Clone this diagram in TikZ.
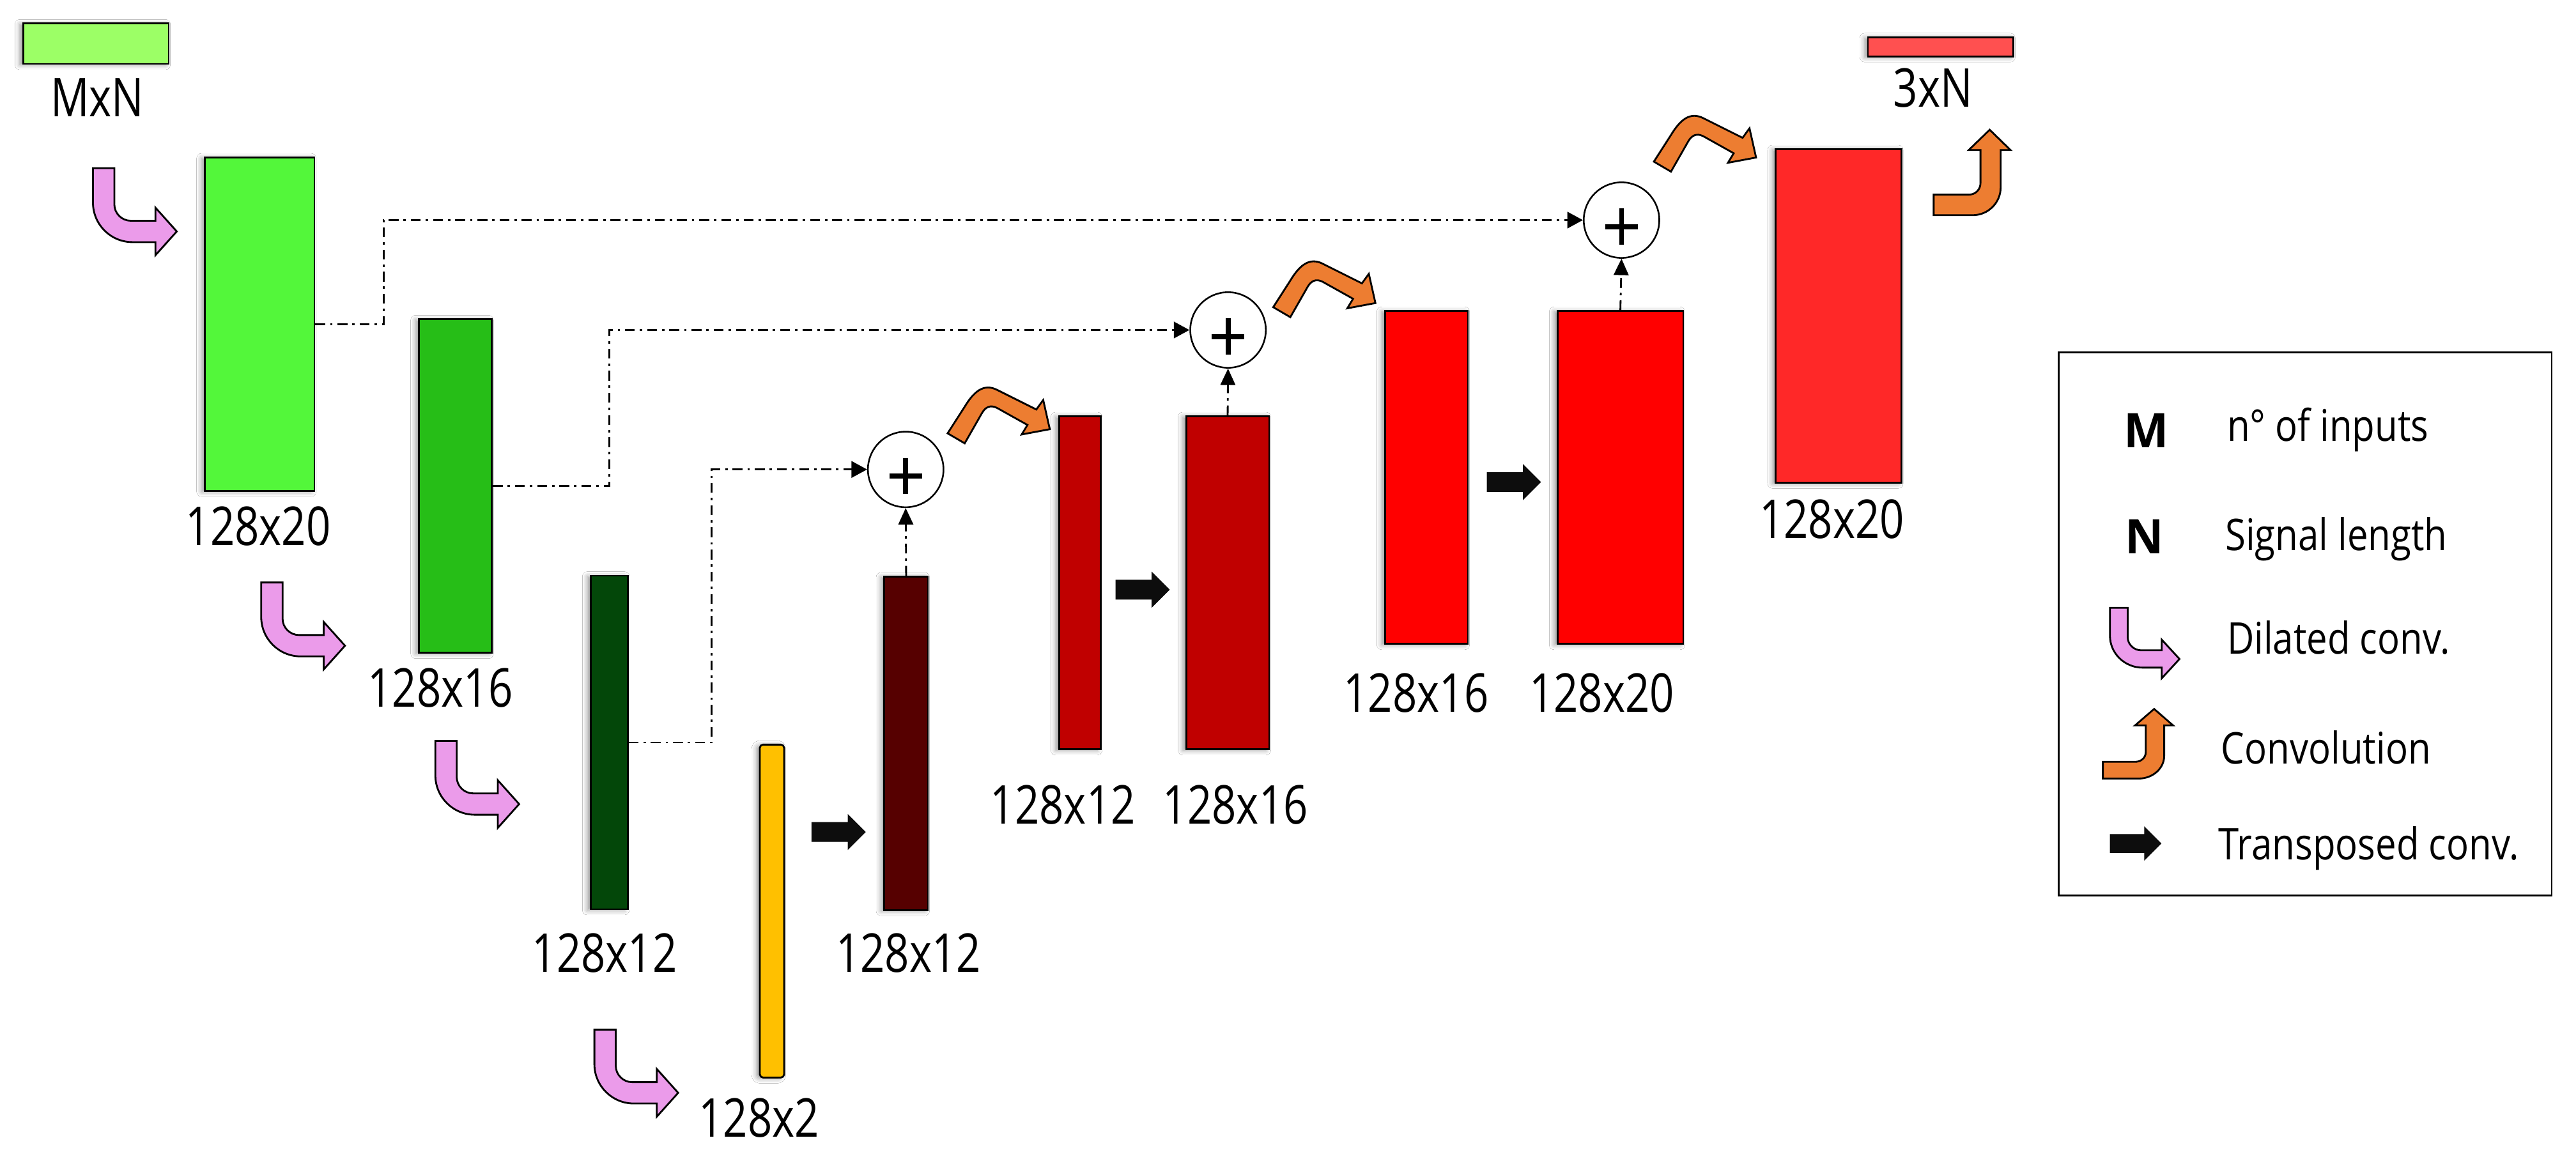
\documentclass[tikz,border=0pt]{standalone}
\usepackage{fontspec}
\setmainfont{Open Sans}
\newfontfamily\labfont[FakeStretch=0.8]{Open Sans}
\newfontfamily\legfont[FakeStretch=0.85]{Open Sans}
\usetikzlibrary{arrows.meta,shadows.blur}
\definecolor{cin}{HTML}{9CFF66}
\definecolor{cg1}{HTML}{53F73A}
\definecolor{cg2}{HTML}{26BE17}
\definecolor{cg3}{HTML}{034709}
\definecolor{cyel}{HTML}{FFC000}
\definecolor{cmar}{HTML}{560000}
\definecolor{cdr}{HTML}{C00000}
\definecolor{cr}{HTML}{FF0000}
\definecolor{clr}{HTML}{FF2828}
\definecolor{cout}{HTML}{FF5050}
\definecolor{cpink}{HTML}{EB9BEA}
\definecolor{corange}{HTML}{ED7D31}
\definecolor{cblk}{HTML}{0D0D0D}
\tikzset{
  blk/.style={draw=black, line width=1.1pt, inner sep=0pt,
    blur shadow={shadow xshift=-2pt, shadow yshift=-0.5pt, shadow blur radius=3pt}},
  lab/.style={font=\labfont\fontsize{32.6}{36}\selectfont, inner sep=0pt},
  leg/.style={font=\legfont\fontsize{26.6}{30}\selectfont, inner sep=0pt, anchor=base west},
  legsym/.style={font=\bfseries\fontsize{29}{32}\selectfont, inner sep=0pt},
  skip/.style={line width=1.1pt, dash pattern=on 6pt off 3pt on 1.5pt off 3pt,
    -{Triangle[length=9.5pt,width=10pt]}},
  sum/.style={circle, draw, line width=1pt, minimum size=46pt, inner sep=0pt, fill=white},
  plusmark/.style={line width=3pt},
  pics/pinkarr/.style={code={
    \draw[line width=1.1pt, fill=cpink, line join=miter]
      (0,0) -- (13,0) -- (13,22) .. controls (13,27.5) and (17.5,32) .. (23,32)
      -- (38,32) -- (38,24) -- (51,38.5) -- (38,53) -- (38,45) -- (24,45)
      .. controls (10.75,45) and (0,34.25) .. (0,21) -- cycle;}},
  pics/orangeup/.style={code={
    \draw[line width=1.1pt, fill=corange, line join=miter]
      (0,39.5) -- (21.5,39.5) .. controls (25.4,39.5) and (28.5,36.4) .. (28.5,32.5)
      -- (28.5,12.3) -- (21.4,12.3) -- (34.1,0) -- (46.7,12.3) -- (40.8,12.3)
      -- (40.8,35) .. controls (40.8,44.4) and (33.2,52) .. (23.8,52) -- (0,52) -- cycle;}},
  pics/orangehook/.style={code={
    \draw[line width=1.1pt, fill=corange, line join=miter]
      (0,0) -- (10.4,-16.2) .. controls (16,-25.5) and (22,-30.5) .. (30,-26.5)
      -- (54,-14.5) -- (58.2,-20.3) -- (62.2,-2.5) -- (45.1,0.7) -- (48.6,-5.1)
      -- (30,-15.5) .. controls (26,-17.5) and (23,-16) .. (20.9,-12.3)
      -- (10.4,6.1) -- cycle;}},
  pics/tconv/.style={code={
    \fill[cblk] (0,-6) -- (22,-6) -- (22,-11) -- (33,0) -- (22,11) -- (22,6) -- (0,6) -- cycle;}},
}
\begin{document}
\begin{tikzpicture}[x=1pt,y=-1pt]
\fill[white] (0,0) rectangle (1568,711);
\useasboundingbox (0,0) rectangle (1568,711);

% blocks
\node[blk, fill=cin, minimum width=88.6pt, minimum height=24.6pt] (r0) at (58.4,26.6) {};
\node[blk, fill=cg1, minimum width=66.7pt, minimum height=202.9pt] (r1) at (158.05,197.35) {};
\node[blk, fill=cg2, minimum width=44.4pt, minimum height=203pt] (r2) at (277.2,295.9) {};
\node[blk, fill=cg3, minimum width=22.6pt, minimum height=203pt] (r3) at (370.8,452) {};
\node[blk, fill=cyel, rounded corners=2pt, minimum width=14.8pt, minimum height=202.7pt] (r4) at (469.9,554.65) {};
\node[blk, fill=cmar, minimum width=26.5pt, minimum height=203pt] (r5) at (551.55,452.5) {};
\node[blk, fill=cdr, minimum width=25.3pt, minimum height=202.8pt] (r6) at (657.25,354.8) {};
\node[blk, fill=cdr, minimum width=50.5pt, minimum height=202.8pt] (r7) at (747.25,354.8) {};
\node[blk, fill=cr, minimum width=50.5pt, minimum height=202.7pt] (r8) at (868.25,290.65) {};
\node[blk, fill=cr, minimum width=76.6pt, minimum height=202.7pt] (r9) at (986.3,290.65) {};
\node[blk, fill=clr, minimum width=76.5pt, minimum height=203pt] (r10) at (1119.15,192.3) {};
\node[blk, fill=cout, minimum width=88.6pt, minimum height=11.6pt] (r11) at (1181.3,28.5) {};

% labels
\node[lab] (l0) at (59.2,59.5) {MxN};
\node[lab] (l1) at (157.2,320.2) {128x20};
\node[lab] (l2) at (268,418.8) {128x16};
\node[lab] (l3) at (368,580) {128x12};
\node[lab] (l4) at (462,680.4) {128x2};
\node[lab] (l5) at (553,580) {128x12};
\node[lab] (l6) at (647,490) {128x12};
\node[lab] (l7) at (752,490) {128x16};
\node[lab] (l8) at (862,422) {128x16};
\node[lab] (l9) at (975,422) {128x20};
\node[lab] (l10) at (1115,316) {128x20};
\node[lab] (l11) at (1176.6,53.5) {3xN};

% sum nodes
\node[sum] (c1) at (551.3,285.8) {};
\node[sum] (c2) at (747.5,200.9) {};
\node[sum] (c3) at (987,134) {};
\foreach \c in {c1,c2,c3}{
  \draw[plusmark] (\c) ++(-10,4) -- ++(20,0);
  \draw[plusmark] (\c) ++(0,-7) -- ++(0,22);
}

% skip connections
\draw[skip] (r1.east) -- ++(41.6,0) |- (c3.west);
\draw[skip] (r2.east) -- ++(70.8,0) |- (c2.west);
\draw[skip] (r3.east) -- ++(50.6,0) |- (c1.west);
\draw[skip, -{Triangle[length=10pt,width=9pt]}] (r5.north) -- (c1.south);
\draw[skip, -{Triangle[length=10pt,width=9pt]}] (r7.north) -- (c2.south);
\draw[skip, -{Triangle[length=10pt,width=9pt]}] (r9.north) -- (c3.south);

% dilated convolutions
\pic at (56.6,102.4) {pinkarr};
\pic at (159,354.6) {pinkarr};
\pic at (265,451) {pinkarr};
\pic at (361.8,626.8) {pinkarr};

% transposed convolutions
\pic at (494,506.5) {tconv};
\pic at (679,359) {tconv};
\pic at (905,293.5) {tconv};

% convolutions
\pic at (576.8,263.8) {orangehook};
\pic at (775,187) {orangehook};
\pic at (1006.7,98.4) {orangehook};
\pic at (1177,79) {orangeup};

% legend
\node[draw, line width=1.1pt, minimum width=300.2pt, minimum height=330.5pt, inner sep=0pt] (legbox) at (1403.1,379.85) {};
\node[legsym] (lm) at (1306.3,262.3) {M};
\node[leg] (lmt) at (1355.4,268.7) {n° of inputs};
\node[legsym] (ln) at (1305.5,326.7) {N};
\node[leg] (lnt) at (1354.3,335.2) {Signal length};
\pic[xscale=0.83, yscale=0.81] at (1284.3,370) {pinkarr};
\node[leg] (lpt) at (1355.4,398.2) {Dilated conv.};
\pic[xscale=0.915, yscale=0.815] at (1280,431.6) {orangeup};
\node[leg] (lot) at (1351.8,465.2) {Convolution};
\pic[xscale=0.95, yscale=0.95] at (1284.3,513.5) {tconv};
\node[leg] (ltt) at (1350.2,523.2) {Transposed conv.};
\end{tikzpicture}
\end{document}
